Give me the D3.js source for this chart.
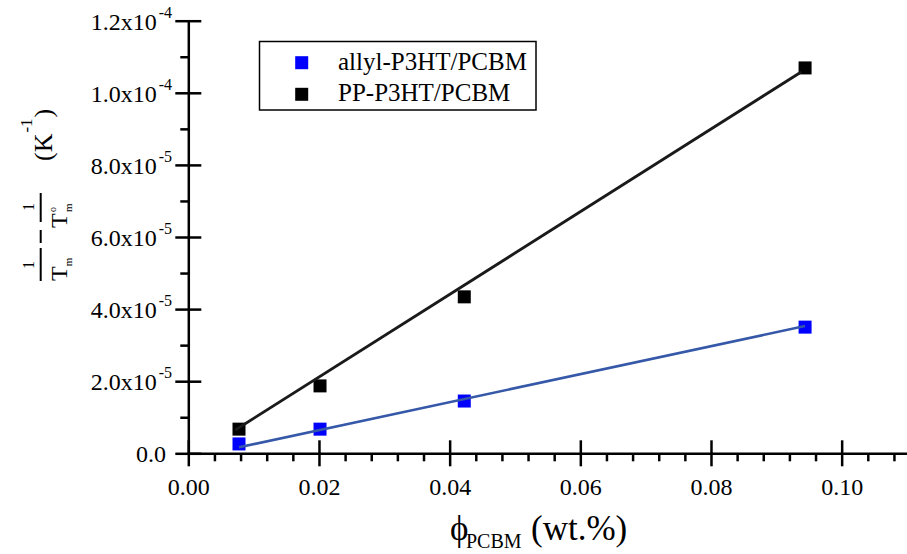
<!DOCTYPE html>
<html><head><meta charset="utf-8">
<script src="https://cdn.jsdelivr.net/npm/d3@7"></script>
<style>
body{margin:0;background:#fff}
svg{display:block}
text{font-family:"Liberation Serif","Times New Roman",serif;fill:#000}
</style>
</head><body><svg id="c" width="907" height="554"></svg>
<script>
// ---- data ----
const phi = [0.00776, 0.02016, 0.04224, 0.0944];
const allylVals = [2.6e-6, 6.7e-6, 1.45e-5, 3.50e-5];
const ppVals = [6.7e-6, 1.87e-5, 4.34e-5, 1.069e-4];
const allylFitX = [0.00776, 0.0944];
const allylFitY = [1.66e-6, 3.53e-5];
const ppFitX = [0.0072, 0.0938];
const ppFitY = [6.46e-6, 1.0577e-4];
const seriesNames = ["allyl-P3HT/PCBM", "PP-P3HT/PCBM"];
const xTicks = [0, 0.02, 0.04, 0.06, 0.08, 0.10];
const xTickLabels = ["0.00", "0.02", "0.04", "0.06", "0.08", "0.10"];
const xMinor = [0.004,0.008,0.012,0.016,0.024,0.028,0.032,0.036,0.044,0.048,0.052,0.056,0.064,0.068,0.072,0.076,0.084,0.088,0.092,0.096,0.104,0.108];
const yTicks = [0, 2e-5, 4e-5, 6e-5, 8e-5, 1e-4, 1.2e-4];
const yTickMant = ["0.0", "2.0x10", "4.0x10", "6.0x10", "8.0x10", "1.0x10", "1.2x10"];
const yTickExp = ["", "-5", "-5", "-5", "-5", "-4", "-4"];
const yMinor = [1e-5, 3e-5, 5e-5, 7e-5, 9e-5, 1.1e-4];

const svg = d3.select("#c");
const x = d3.scaleLinear().domain([0, 0.11]).range([188.3, 907]);
const y = d3.scaleLinear().domain([0, 1.2e-4]).range([453.3, 20.7]);
const AX = 2.5;

// ---- x axis ----
const gx = svg.append("g").attr("transform", `translate(0,${y(0)})`)
  .call(d3.axisBottom(x).tickValues(xTicks).tickSize(13).tickSizeOuter(0)
    .tickPadding(12).tickFormat((d, i) => xTickLabels[i]));
gx.attr("font-family", null);
gx.selectAll(".tick line").attr("y1", -13);
gx.selectAll("line,path").attr("stroke", "#000").attr("stroke-width", AX);
gx.selectAll("text").attr("font-size", 24);
const gxm = svg.append("g").attr("transform", `translate(0,${y(0)})`)
  .call(d3.axisBottom(x).tickValues(xMinor).tickSize(8).tickFormat(""));
gxm.select(".domain").remove();
gxm.selectAll("line").attr("stroke", "#000").attr("stroke-width", AX);

// ---- y axis ----
const gy = svg.append("g").attr("transform", `translate(${x(0)},0)`)
  .call(d3.axisLeft(y).tickValues(yTicks).tickSize(13).tickSizeOuter(0).tickFormat(""));
gy.selectAll(".tick line").attr("x1", 13);
gy.selectAll("line,path").attr("stroke", "#000").attr("stroke-width", AX);
const gym = svg.append("g").attr("transform", `translate(${x(0)},0)`)
  .call(d3.axisLeft(y).tickValues(yMinor).tickSize(8).tickFormat(""));
gym.select(".domain").remove();
gym.selectAll("line").attr("stroke", "#000").attr("stroke-width", AX);

// y tick labels
yTicks.forEach((v, i) => {
  const t = svg.append("text").attr("text-anchor", "end")
    .attr("x", yTickExp[i] ? 172 : 166).attr("y", y(v) + 9).attr("font-size", 24);
  t.append("tspan").text(yTickMant[i]);
  if (yTickExp[i]) t.append("tspan").attr("font-size", 16).attr("dx", 2).attr("dy", -12).text(yTickExp[i]);
});

// ---- markers ----
const S = 13;
function squares(vals, color) {
  svg.append("g").selectAll("rect").data(vals).join("rect")
    .attr("x", (d, i) => x(phi[i]) - S / 2).attr("y", d => y(d) - S / 2)
    .attr("width", S).attr("height", S).attr("fill", color);
}
squares(allylVals, "#0000ff");
squares(ppVals, "#000000");

// ---- fit lines ----
const line = d3.line().x(d => x(d[0])).y(d => y(d[1]));
svg.append("path").datum(allylFitX.map((v, i) => [v, allylFitY[i]]))
  .attr("d", line).attr("fill", "none").attr("stroke", "#3558a8").attr("stroke-width", 2.6);
svg.append("path").datum(ppFitX.map((v, i) => [v, ppFitY[i]]))
  .attr("d", line).attr("fill", "none").attr("stroke", "#1a1a1a").attr("stroke-width", 2.8);

// ---- legend ----
svg.append("rect").attr("x", 259.5).attr("y", 41.5).attr("width", 276.5).attr("height", 68.5)
  .attr("fill", "none").attr("stroke", "#000").attr("stroke-width", 1.5);
const legColors = ["#0000ff", "#000000"];
const legY = [62.7, 94.3];
seriesNames.forEach((n, i) => {
  svg.append("rect").attr("x", 301.7 - S / 2).attr("y", legY[i] - S / 2)
    .attr("width", S).attr("height", S).attr("fill", legColors[i]);
  svg.append("text").attr("x", 338).attr("y", legY[i] + 7).attr("font-size", 25).text(n);
});

// ---- x title ----
svg.append("text").attr("x", 450).attr("y", 540).attr("font-size", 35).text("ϕ");
svg.append("text").attr("x", 466).attr("y", 548).attr("font-size", 20).text("PCBM");
svg.append("text").attr("x", 531).attr("y", 540).attr("font-size", 35).text("(wt.%)");

// ---- y title (rotated pieces) ----
function rt(X, Y, txt, size, anchor) {
  return svg.append("text").attr("transform", `translate(${X},${Y}) rotate(-90)`)
    .attr("font-size", size).attr("text-anchor", anchor || "middle").text(txt);
}
function vbar(X, y1, y2) {
  svg.append("line").attr("x1", X).attr("x2", X).attr("y1", y1).attr("y2", y2)
    .attr("stroke", "#000").attr("stroke-width", 2);
}
// 1 / T_m
rt(34, 265, "1", 16);
vbar(40.7, 248, 281);
const tb = rt(67, 281, "T", 24, "start");
tb.append("tspan").attr("font-size", 11).attr("dy", 5).text("m");
// minus
vbar(40.7, 230, 243);
// 1 / T°_m
rt(34, 207, "1", 16);
vbar(40.7, 193, 222);
rt(67, 228, "T", 24, "start");
rt(56, 212, "o", 10, "start");
rt(72, 212, "m", 11, "start");
// (K^-1)
const k = rt(52, 161, "(K", 26, "start");
k.append("tspan").attr("font-size", 17).attr("dx", 1).attr("dy", -20).text("-1");
k.append("tspan").attr("dx", 1).attr("dy", 20).text(")");
</script>
</body></html>
